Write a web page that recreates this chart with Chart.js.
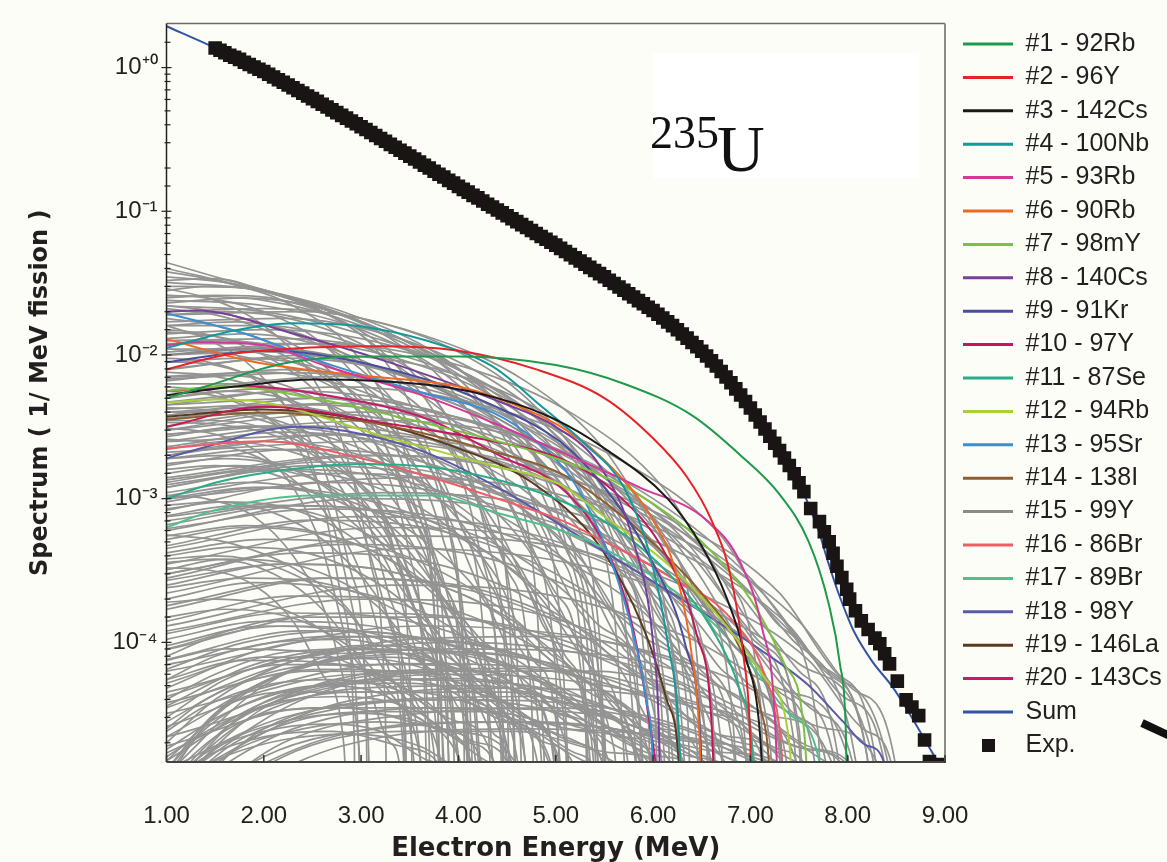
<!DOCTYPE html>
<html>
<head>
<meta charset="utf-8">
<script src="https://cdn.jsdelivr.net/npm/chart.js@4.4.1/dist/chart.umd.min.js"></script>
<style>
html,body{margin:0;padding:0;background:#fdfdf7;}
canvas{display:block;}
</style>
</head>
<body>
<canvas id="c" width="1167" height="862"></canvas>
<script>
// ---------------- data ----------------
const energyTicks = [1, 2, 3, 4, 5, 6, 7, 8, 9];
const decadeLabels = { '0': '10⁺⁰', '-1': '10⁻¹', '-2': '10⁻²', '-3': '10⁻³', '-4': '10⁻⁴' };

const nuclideLabels = ['#1 - 92Rb', '#2 - 96Y', '#3 - 142Cs', '#4 - 100Nb', '#5 - 93Rb', '#6 - 90Rb',
  '#7 - 98mY', '#8 - 140Cs', '#9 - 91Kr', '#10 - 97Y', '#11 - 87Se', '#12 - 94Rb', '#13 - 95Sr',
  '#14 - 138I', '#15 - 99Y', '#16 - 86Br', '#17 - 89Br', '#18 - 98Y', '#19 - 146La', '#20 - 143Cs'];

// each spectrum: [energy, value, energy, value, ...]
const nuclideSpectra = [
  [1,5.01e-3, 1.4,6.03e-3, 2.2,8.71e-3, 3,9.77e-3, 4,9.77e-3, 5,8.51e-3, 5.7,6.31e-3, 6.4,3.80e-3, 6.9,2.00e-3, 7.3,1.07e-3, 7.6,5.01e-4, 7.8,1.91e-4, 7.92,7.08e-5, 7.98,2.51e-5, 8.02,1e-6],
  [1,7.94e-3, 1.6,1.0e-2, 2.4,1.12e-2, 3.2,1.15e-2, 4.0,1.07e-2, 4.8,7.94e-3, 5.5,5.01e-3, 6.0,2.63e-3, 6.35,1.41e-3, 6.6,7.08e-4, 6.8,2.82e-4, 6.93,7.94e-5, 7.0,2.0e-5, 7.04,1e-6],
  [1,5.25e-3, 1.7,6.03e-3, 2.5,6.76e-3, 3.7,6.17e-3, 4.4,5.01e-3, 5.0,3.55e-3, 5.5,2.24e-3, 6.15,1.0e-3, 6.5,4.68e-4, 6.75,2.09e-4, 6.95,7.94e-5, 7.1,2.24e-5, 7.2,1e-6],
  [1,1.12e-2, 1.7,1.48e-2, 2.3,1.66e-2, 3.0,1.58e-2, 3.67,1.26e-2, 4.35,8.32e-3, 4.84,4.47e-3, 5.3,2.40e-3, 5.7,1.20e-3, 5.95,4.47e-4, 6.15,1.0e-4, 6.27,2.0e-5, 6.33,1e-6],
  [1,1.17e-2, 1.3,1.23e-2, 2.0,1.17e-2, 2.65,8.32e-3, 3.67,5.13e-3, 4.35,3.39e-3, 5.0,2.19e-3, 5.86,1.20e-3, 6.55,7.08e-4, 6.9,3.55e-4, 7.12,1.26e-4, 7.25,3.16e-5, 7.33,1e-6],
  [1,1.29e-2, 1.84,9.12e-3, 2.53,7.76e-3, 3.1,7.08e-3, 4.0,6.03e-3, 4.7,4.17e-3, 5.1,3.02e-3, 5.6,1.58e-3, 6.0,7.08e-4, 6.25,2.82e-4, 6.4,7.94e-5, 6.48,2.0e-5, 6.53,1e-6],
  [1,5.62e-3, 1.6,6.03e-3, 2.5,5.01e-3, 3.5,3.55e-3, 4.4,2.51e-3, 5.0,1.91e-3, 5.8,1.12e-3, 6.5,5.01e-4, 7.0,2.0e-4, 7.35,7.08e-5, 7.55,2.51e-5, 7.66,1e-6],
  [1,2.0e-2, 1.3,2.04e-2, 2.3,1.41e-2, 3.33,8.71e-3, 4.4,4.79e-3, 5.0,3.16e-3, 5.45,1.70e-3, 5.8,5.01e-4, 6.0,1.0e-4, 6.06,2.51e-5, 6.1,1e-6],
  [1,8.91e-3, 2.0,1.07e-2, 2.5,1.02e-2, 3.67,6.76e-3, 4.35,4.47e-3, 5.04,2.51e-3, 5.45,1.32e-3, 5.96,3.98e-4, 6.34,9.12e-5, 6.48,2.51e-5, 6.56,1e-6],
  [1,3.16e-3, 2,4.37e-3, 3.3,3.31e-3, 4.35,2.51e-3, 5.04,1.91e-3, 5.6,1.12e-3, 6.14,3.98e-4, 6.45,1.12e-4, 6.6,2.82e-5, 6.68,1e-6],
  [1,1.0e-3, 1.5,1.29e-3, 2.0,1.51e-3, 3.0,1.74e-3, 3.7,1.66e-3, 4.35,1.38e-3, 5.0,1.0e-3, 5.6,6.31e-4, 6.2,2.82e-4, 6.6,1.26e-4, 6.9,4.47e-5, 7.02,1.78e-5, 7.09,1e-6],
  [1,4.68e-3, 1.5,4.90e-3, 2.0,4.68e-3, 3.3,2.63e-3, 4.35,1.70e-3, 5.04,1.26e-3, 5.45,7.94e-4, 6.14,3.55e-4, 6.65,1.58e-4, 7.16,5.50e-5, 7.4,2.0e-5, 7.5,1e-6],
  [1,1.95e-2, 1.8,1.41e-2, 2.65,8.71e-3, 3.67,5.37e-3, 4.35,3.98e-3, 4.8,2.51e-3, 5.2,1.26e-3, 5.55,3.98e-4, 5.8,1.12e-4, 5.93,3.98e-5, 6.0,1.26e-5, 6.03,1e-6],
  [1,3.55e-3, 2,3.98e-3, 3,3.47e-3, 3.67,2.82e-3, 4.35,2.14e-3, 5.04,1.51e-3, 5.55,8.91e-4, 6.14,3.98e-4, 6.55,2.0e-4, 6.9,8.91e-5, 7.1,3.55e-5, 7.2,1.12e-5, 7.25,1e-6],
  [1,1.0e-2, 2,1.12e-2, 3,8.91e-3, 4,5.01e-3, 5,2.0e-3, 6,5.01e-4, 6.8,1.0e-4, 7.3,2.0e-5, 7.45,1e-6],
  [1,2.24e-3, 2,2.51e-3, 3,1.91e-3, 3.9,1.29e-3, 4.4,1.0e-3, 5.09,6.92e-4, 5.45,5.25e-4, 6.14,2.95e-4, 6.82,1.41e-4, 7.16,5.50e-5, 7.33,1.41e-5, 7.4,1e-6],
  [1,6.31e-4, 1.5,8.32e-4, 2.5,1.05e-3, 3.73,1.05e-3, 4.4,7.94e-4, 5.09,5.89e-4, 5.45,4.68e-4, 6.48,1.66e-4, 7.0,7.08e-5, 7.4,3.16e-5, 7.7,1.58e-5, 7.87,1e-6],
  [1,1.91e-3, 1.3,2.19e-3, 2.35,3.16e-3, 3.0,2.82e-3, 3.67,2.09e-3, 4.4,1.20e-3, 5.45,4.47e-4, 6.48,1.66e-4, 7.1,8.91e-5, 7.6,5.01e-5, 7.95,2.82e-5, 8.2,1.91e-5, 8.38,1.41e-5, 8.45,1e-6],
  [1,3.72e-3, 2,4.17e-3, 3,3.55e-3, 4,2.24e-3, 4.76,1.29e-3, 5.45,4.68e-4, 5.9,1.26e-4, 6.14,3.98e-5, 6.27,1.26e-5, 6.32,1e-6],
  [1,5.62e-3, 1.8,6.03e-3, 2.8,5.01e-3, 3.7,3.55e-3, 4.42,2.0e-3, 5.1,1.12e-3, 5.55,4.07e-4, 5.8,1.20e-4, 5.95,3.16e-5, 6.08,6.31e-6, 6.14,1e-6]
];

const sumX = [1.0, 1.5, 2.0, 2.5, 3.0, 3.5, 4.0, 4.5, 5.0, 5.5, 6.0, 6.5, 7.0, 7.25, 7.5, 7.6, 7.7, 7.8, 7.9, 8.0, 8.07, 8.25, 8.46, 8.63, 8.81, 8.95];
const sumY = [1.94, 1.37, 0.938, 0.608, 0.388, 0.242, 0.149, 0.0931, 0.0581, 0.035, 0.0204, 0.0106, 0.00427, 0.00243, 0.00129, 9.0e-4, 6.0e-4, 3.6e-4, 2.25e-4, 1.5e-4, 1.17e-4, 7.4e-5, 4.9e-5, 3.24e-5, 2.0e-5, 1.38e-5];

const expX = [1.50,1.55,1.60,1.65,1.70,1.75,1.80,1.85,1.90,1.95,2.00,2.05,2.10,2.15,2.20,2.25,2.30,2.35,2.40,2.45,
  2.50,2.55,2.60,2.65,2.70,2.75,2.80,2.85,2.90,2.95,3.00,3.05,3.10,3.15,3.20,3.25,3.30,3.35,3.40,3.45,
  3.50,3.55,3.60,3.65,3.70,3.75,3.80,3.85,3.90,3.95,4.00,4.05,4.10,4.15,4.20,4.25,4.30,4.35,4.40,4.45,
  4.50,4.55,4.60,4.65,4.70,4.75,4.80,4.85,4.90,4.95,5.00,5.05,5.10,5.15,5.20,5.25,5.30,5.35,5.40,5.45,
  5.50,5.55,5.60,5.65,5.70,5.75,5.80,5.85,5.90,5.95,6.00,6.05,6.10,6.15,6.20,6.25,6.30,6.35,6.40,6.45,
  6.50,6.55,6.60,6.65,6.70,6.75,6.80,6.85,6.90,6.95,7.00,7.05,7.10,7.15,7.20,7.25,7.30,7.35,7.40,7.45,
  7.50,7.55,7.62,7.71,7.76,7.81,7.85,7.89,7.94,7.99,8.02,8.08,8.14,8.21,8.28,8.33,8.38,8.43,8.51,8.60,
  8.66,8.73,8.79,8.84,8.92];
const expY = [1.37,1.32,1.27,1.22,1.18,1.14,1.09,1.05,1.01,0.975,0.938,0.899,0.861,0.824,0.791,0.757,0.724,0.693,0.664,0.635,
  0.608,0.582,0.556,0.532,0.508,0.486,0.465,0.445,0.425,0.406,0.388,0.371,0.353,0.337,0.321,0.307,0.292,0.279,0.266,0.254,
  0.242,0.231,0.220,0.209,0.200,0.190,0.181,0.173,0.164,0.157,0.149,0.142,0.136,0.129,0.124,0.118,0.112,0.107,0.102,0.0975,
  0.0931,0.0887,0.0847,0.0807,0.0771,0.0735,0.0701,0.0668,0.0638,0.0608,0.0581,0.0552,0.0525,0.0499,0.0474,0.0451,0.0429,0.0407,0.0387,0.0368,
  0.0350,0.0331,0.0314,0.0297,0.0282,0.0267,0.0253,0.0239,0.0227,0.0215,0.0204,0.0192,0.0181,0.0170,0.0160,0.0150,0.0140,0.0131,0.0122,0.0114,
  0.0106,0.00984,0.00910,0.00838,0.00767,0.00702,0.00640,0.00581,0.00526,0.00474,0.00427,0.00382,0.00342,0.00305,0.00272,0.00243,0.00216,0.00192,0.00170,0.00149,
  0.00129,0.00112,8.53e-4,6.92e-4,5.89e-4,5.01e-4,4.17e-4,3.39e-4,2.82e-4,2.34e-4,2.00e-4,1.66e-4,1.41e-4,1.23e-4,1.07e-4,9.77e-5,8.32e-5,7.08e-5,5.37e-5,3.98e-5,
  3.55e-5,3.09e-5,2.09e-5,1.48e-5,1.41e-5];

// all other (unlabelled) nuclide spectra, grey: [energy, value, ...]
const otherSpectra = [
  [1,4.4e-2, 1.5,3.5e-2, 2.2,2.6e-2, 3,1.7e-2, 3.8,8.9e-3, 4.4,3.2e-3, 4.8,7.9e-4, 5.05,1.3e-4, 5.2,1e-6],
  [1,4.0e-2, 1.8,3.0e-2, 2.6,2.1e-2, 3.4,1.3e-2, 4.1,7.1e-3, 4.7,2.5e-3, 5.1,5.0e-4, 5.35,6.3e-5, 5.5,1e-6],
  [1,3.5e-2, 1.6,3.2e-2, 2.4,2.4e-2, 3.3,1.4e-2, 4.0,7.9e-3, 4.7,3.5e-3, 5.3,1.0e-3, 5.7,1.6e-4, 5.95,1e-6],
  [1,3.3e-2, 1.5,3.4e-2, 2.0,2.8e-2, 2.8,1.7e-2, 3.4,7.9e-3, 3.9,2.5e-3, 4.2,5.0e-4, 4.4,6.3e-5, 4.5,1e-6],
  [1,3.0e-2, 1.7,2.95e-2, 2.5,2.2e-2, 3.3,1.3e-2, 4.0,5.0e-3, 4.5,1.3e-3, 4.8,2.0e-4, 4.95,1e-6],
  [1,2.8e-2, 1.4,3.0e-2, 2.0,2.8e-2, 2.6,2.0e-2, 3.2,1.0e-2, 3.6,3.2e-3, 3.9,6.3e-4, 4.05,7.9e-5, 4.15,1e-6],
  [1,2.6e-2, 2.0,2.4e-2, 3.0,1.6e-2, 3.8,8.9e-3, 4.6,3.5e-3, 5.2,1.0e-3, 5.6,1.6e-4, 5.8,1e-6],
  [1,2.5e-2, 1.5,2.6e-2, 2.2,2.4e-2, 2.9,1.6e-2, 3.5,7.9e-3, 4.0,2.5e-3, 4.3,5.0e-4, 4.5,4.0e-5, 4.55,1e-6],
  [1,2.3e-2, 1.8,2.5e-2, 2.6,2.1e-2, 3.4,1.3e-2, 4.2,6.3e-3, 4.8,2.0e-3, 5.2,4.0e-4, 5.45,5.0e-5, 5.55,1e-6],
  [1,2.2e-2, 1.5,2.0e-2, 2.3,1.4e-2, 3.0,7.9e-3, 3.5,3.2e-3, 3.85,7.9e-4, 4.05,1.0e-4, 4.15,1e-6],
  [1,2.0e-2, 2.0,2.1e-2, 3.0,1.8e-2, 4.0,1.05e-2, 4.7,5.0e-3, 5.3,1.6e-3, 5.7,3.2e-4, 5.95,3.2e-5, 6.0,1e-6],
  [1,1.9e-2, 1.6,2.0e-2, 2.4,1.7e-2, 3.2,1.0e-2, 3.8,4.5e-3, 4.2,1.4e-3, 4.5,2.5e-4, 4.65,1e-6],
  [1,1.8e-2, 1.5,1.6e-2, 2.2,1.1e-2, 2.8,5.6e-3, 3.2,2.0e-3, 3.5,4.0e-4, 3.65,5.0e-5, 3.7,1e-6],
  [1,1.7e-2, 2.2,1.8e-2, 3.4,1.3e-2, 4.4,6.3e-3, 5.2,2.2e-3, 5.8,5.0e-4, 6.2,7.9e-5, 6.35,1e-6],
  [1,1.6e-2, 1.7,1.7e-2, 2.5,1.3e-2, 3.3,6.3e-3, 3.9,2.5e-3, 4.3,6.3e-4, 4.6,7.9e-5, 4.7,1e-6],
  [1,1.5e-2, 1.4,1.4e-2, 2.0,1.0e-2, 2.6,5.0e-3, 3.0,2.0e-3, 3.3,5.0e-4, 3.5,6.3e-5, 3.55,1e-6],
  [1,1.4e-2, 2.0,1.5e-2, 3.0,1.3e-2, 4.0,7.9e-3, 4.9,3.2e-3, 5.5,1.0e-3, 6.0,2.0e-4, 6.3,2.5e-5, 6.4,1e-6],
  [1,1.26e-2, 1.6,1.26e-2, 2.4,1.0e-2, 3.1,5.6e-3, 3.6,2.5e-3, 4.0,7.1e-4, 4.25,1.3e-4, 4.4,1e-6],
  [1,1.2e-2, 2.5,1.2e-2, 3.5,8.9e-3, 4.5,4.5e-3, 5.2,1.8e-3, 5.7,5.0e-4, 6.05,7.9e-5, 6.2,1e-6],
  [1,1.1e-2, 1.5,1.1e-2, 2.3,8.9e-3, 3.0,5.0e-3, 3.5,2.0e-3, 3.85,5.0e-4, 4.1,6.3e-5, 4.2,1e-6],
  [1,1.0e-2, 2,1.1e-2, 3,8.9e-3, 4,5.0e-3, 4.8,2.0e-3, 5.4,5.6e-4, 5.8,1.0e-4, 6.0,1e-6],
  [1,8.9e-3, 1.8,9.5e-3, 2.7,7.6e-3, 3.5,4.0e-3, 4.1,1.4e-3, 4.5,3.2e-4, 4.75,4.0e-5, 4.8,1e-6],
  [1,7.9e-3, 2.5,1.0e-2, 3.8,7.9e-3, 5.0,3.5e-3, 5.8,1.1e-3, 6.4,2.5e-4, 6.8,4.0e-5, 6.95,1e-6],
  [1,7.6e-3, 1.5,7.1e-3, 2.2,5.0e-3, 2.8,2.5e-3, 3.2,8.9e-4, 3.5,2.0e-4, 3.7,2.0e-5, 3.72,1e-6],
  [1,6.6e-3, 2.2,7.9e-3, 3.3,6.3e-3, 4.3,3.5e-3, 5.0,1.4e-3, 5.6,3.5e-4, 6.0,5.0e-5, 6.1,1e-6],
  [1,6.3e-3, 1.7,6.3e-3, 2.5,5.0e-3, 3.2,2.8e-3, 3.8,1.0e-3, 4.2,2.5e-4, 4.45,3.2e-5, 4.5,1e-6],
  [1,5.6e-3, 2.8,7.1e-3, 4.0,5.0e-3, 5.0,2.5e-3, 5.8,8.9e-4, 6.5,2.0e-4, 6.9,4.0e-5, 7.1,1e-6],
  [1,5.0e-3, 1.6,5.6e-3, 2.4,4.5e-3, 3.0,2.5e-3, 3.5,1.0e-3, 3.9,2.0e-4, 4.1,2.5e-5, 4.15,1e-6],
  [1,4.7e-3, 2.3,5.6e-3, 3.5,4.5e-3, 4.5,2.2e-3, 5.3,7.9e-4, 5.8,2.0e-4, 6.15,3.2e-5, 6.2,1e-6],
  [1,4.2e-3, 2.0,4.5e-3, 3.0,3.5e-3, 3.8,1.8e-3, 4.4,6.3e-4, 4.85,1.4e-4, 5.1,2.0e-5, 5.15,1e-6],
  [1,3.8e-3, 2.6,5.0e-3, 3.8,4.0e-3, 5.0,1.8e-3, 5.9,5.6e-4, 6.6,1.3e-4, 7.0,2.5e-5, 7.15,1e-6],
  [1,3.5e-3, 1.5,3.5e-3, 2.2,2.8e-3, 2.8,1.6e-3, 3.3,6.3e-4, 3.7,1.3e-4, 3.9,1.6e-5, 3.92,1e-6],
  [1,3.2e-3, 2.2,4.0e-3, 3.3,3.2e-3, 4.2,1.8e-3, 5.0,7.1e-4, 5.5,2.0e-4, 5.85,3.2e-5, 5.95,1e-6],
  [1,3.0e-3, 3.0,4.0e-3, 4.3,3.2e-3, 5.5,1.4e-3, 6.4,4.5e-4, 7.0,1.1e-4, 7.45,2.0e-5, 7.55,1e-6],
  [1,2.7e-3, 1.8,3.2e-3, 2.8,2.5e-3, 3.6,1.3e-3, 4.2,4.5e-4, 4.6,1.0e-4, 4.85,1.6e-5, 4.9,1e-6],
  [1,2.5e-3, 2.5,3.2e-3, 3.8,2.5e-3, 4.8,1.3e-3, 5.6,4.5e-4, 6.1,1.1e-4, 6.45,2.0e-5, 6.5,1e-6],
  [1,2.2e-3, 1.6,2.5e-3, 2.4,2.0e-3, 3.1,1.1e-3, 3.6,4.0e-4, 4.0,8.9e-5, 4.2,1.6e-5, 4.25,1e-6],
  [1,2.0e-3, 2.8,2.8e-3, 4.0,2.2e-3, 5.2,1.1e-3, 6.1,4.0e-4, 6.8,1.0e-4, 7.2,2.0e-5, 7.3,1e-6],
  [1,1.9e-3, 2.0,2.2e-3, 3.0,1.8e-3, 3.9,8.9e-4, 4.6,3.2e-4, 5.1,7.1e-5, 5.35,1.6e-5, 5.4,1e-6],
  [1,1.7e-3, 2.3,2.2e-3, 3.5,1.9e-3, 4.5,1.0e-3, 5.3,3.5e-4, 5.9,7.9e-5, 6.2,1.6e-5, 6.25,1e-6],
  [1,1.6e-3, 1.5,1.7e-3, 2.2,1.4e-3, 2.8,7.9e-4, 3.3,3.2e-4, 3.6,7.9e-5, 3.8,1.3e-5, 3.82,1e-6],
  [1,1.4e-3, 3.0,2.0e-3, 4.5,1.6e-3, 5.8,7.1e-4, 6.8,2.5e-4, 7.5,6.3e-5, 7.9,1.6e-5, 8.0,1e-6],
  [1,1.3e-3, 2.0,1.6e-3, 3.0,1.3e-3, 3.8,7.1e-4, 4.4,2.8e-4, 4.8,7.1e-5, 5.05,1.3e-5, 5.07,1e-6],
  [1,1.2e-3, 2.5,1.7e-3, 3.8,1.4e-3, 5.0,7.1e-4, 5.9,2.5e-4, 6.5,6.3e-5, 6.85,1.3e-5, 6.9,1e-6],
  [1,1.1e-3, 1.8,1.3e-3, 2.7,1.0e-3, 3.4,5.0e-4, 3.9,1.8e-4, 4.3,4.0e-5, 4.45,1e-6],
  [1,1.05e-3, 2.8,1.5e-3, 4.2,1.2e-3, 5.5,5.6e-4, 6.6,1.8e-4, 7.3,4.5e-5, 7.7,1.0e-5, 7.75,1e-6],
  [1,5.6e-3, 1.5,5.2e-3, 2.1,3.5e-3, 2.6,1.8e-3, 3.0,6.3e-4, 3.3,1.3e-4, 3.45,1.6e-5, 3.47,1e-6],
  [1,2.8e-3, 3.2,3.5e-3, 4.8,2.5e-3, 6.0,1.0e-3, 7.0,2.8e-4, 7.7,7.1e-5, 8.2,1.6e-5, 8.3,1e-6],
  [1,4.5e-3, 2.5,5.0e-3, 3.8,3.5e-3, 4.8,1.6e-3, 5.6,5.0e-4, 6.2,1.1e-4, 6.55,2.0e-5, 6.6,1e-6],
  [1,7.1e-3, 2.0,7.6e-3, 3.0,5.6e-3, 3.9,2.8e-3, 4.5,1.0e-3, 5.0,2.2e-4, 5.3,3.2e-5, 5.35,1e-6],
  [1,9.5e-4, 2.0,1.2e-3, 3.0,1.0e-3, 4.0,5.6e-4, 4.8,2.2e-4, 5.4,6.3e-5, 5.75,1.3e-5, 5.8,1e-6],
  [1,8.3e-4, 2.6,1.3e-3, 4.0,1.05e-3, 5.3,5.0e-4, 6.3,1.8e-4, 7.0,5.0e-5, 7.4,1.1e-5, 7.45,1e-6],
  [1,7.6e-4, 1.7,8.9e-4, 2.6,7.6e-4, 3.4,4.0e-4, 4.0,1.4e-4, 4.4,3.5e-5, 4.6,1e-6],
  [1,6.6e-4, 2.3,8.9e-4, 3.5,7.6e-4, 4.6,4.0e-4, 5.4,1.4e-4, 6.0,3.5e-5, 6.3,1e-6],
  [1,6.0e-4, 3.0,1.0e-3, 4.5,8.3e-4, 5.8,4.0e-4, 6.8,1.4e-4, 7.5,4.0e-5, 7.9,1.1e-5, 7.95,1e-6],
  [1,5.2e-4, 1.8,6.3e-4, 2.8,5.2e-4, 3.6,2.8e-4, 4.2,1.1e-4, 4.65,2.5e-5, 4.8,1e-6],
  [1,4.7e-4, 2.5,7.1e-4, 3.8,6.0e-4, 5.0,3.0e-4, 5.9,1.1e-4, 6.5,3.2e-5, 6.8,1e-6],
  [1,4.2e-4, 2.0,5.2e-4, 3.2,4.5e-4, 4.2,2.2e-4, 4.9,8.9e-5, 5.4,2.2e-5, 5.6,1e-6],
  [1,3.5e-4, 3.2,6.3e-4, 4.8,5.2e-4, 6.0,2.5e-4, 7.0,1.0e-4, 7.7,3.2e-5, 8.1,1.0e-5, 8.15,1e-6],
  [1,3.2e-4, 1.6,3.8e-4, 2.5,3.2e-4, 3.2,1.7e-4, 3.7,6.3e-5, 4.0,1.6e-5, 4.05,1e-6],
  [1,2.8e-4, 2.8,4.8e-4, 4.2,4.0e-4, 5.4,2.0e-4, 6.3,7.9e-5, 6.9,2.5e-5, 7.15,1e-6],
  [1,2.5e-4, 2.2,3.5e-4, 3.4,3.0e-4, 4.4,1.6e-4, 5.1,6.3e-5, 5.6,1.8e-5, 5.7,1e-6],
  [1,2.2e-4, 3.5,4.5e-4, 5.2,3.5e-4, 6.5,1.8e-4, 7.5,7.1e-5, 8.2,2.2e-5, 8.55,1e-6],
  [1,2.0e-4, 1.9,2.6e-4, 3.0,2.2e-4, 3.9,1.3e-4, 4.6,5.0e-5, 5.0,1.4e-5, 5.05,1e-6],
  [1,1.7e-4, 2.7,2.8e-4, 4.0,2.5e-4, 5.2,1.3e-4, 6.1,5.6e-5, 6.7,1.6e-5, 6.8,1e-6],
  [1,1.4e-4, 2.3,2.1e-4, 3.6,1.9e-4, 4.7,1.0e-4, 5.5,4.0e-5, 6.0,1.3e-5, 6.05,1e-6],
  [1,1.3e-4, 3.3,2.5e-4, 5.0,2.1e-4, 6.4,1.05e-4, 7.4,4.5e-5, 8.0,1.6e-5, 8.1,1e-6],
  [1,1.05e-4, 2.0,1.4e-4, 3.1,1.3e-4, 4.0,7.1e-5, 4.7,2.8e-5, 5.1,1.0e-5, 5.15,1e-6],
  [1,8.9e-5, 2.8,1.6e-4, 4.3,1.4e-4, 5.6,7.6e-5, 6.6,3.2e-5, 7.2,1.1e-5, 7.25,1e-6],
  [1,7.6e-5, 2.4,1.2e-4, 3.7,1.05e-4, 4.8,5.6e-5, 5.6,2.5e-5, 6.1,1.0e-5, 6.15,1e-6],
  [1,6.3e-5, 3.6,1.3e-4, 5.4,1.05e-4, 6.8,5.6e-5, 7.8,2.5e-5, 8.4,1.0e-5, 8.45,1e-6],
  [1,5.2e-5, 2.0,7.9e-5, 3.2,7.6e-5, 4.2,4.5e-5, 4.9,2.0e-5, 5.3,7.9e-6, 5.35,1e-6],
  [1,4.5e-5, 3.0,8.9e-5, 4.6,7.9e-5, 5.9,4.5e-5, 6.9,2.0e-5, 7.4,7.9e-6, 7.45,1e-6],
  [1,3.8e-5, 2.5,6.3e-5, 3.9,6.0e-5, 5.0,3.5e-5, 5.8,1.7e-5, 6.2,7.9e-6, 6.25,1e-6],
  [1,3.2e-5, 3.4,7.1e-5, 5.2,6.3e-5, 6.6,3.5e-5, 7.6,1.8e-5, 8.2,7.9e-6, 8.25,1e-6],
  [1,2.6e-5, 2.2,4.5e-5, 3.5,4.5e-5, 4.6,2.8e-5, 5.4,1.4e-5, 5.8,6.3e-6, 5.85,1e-6],
  [1,2.2e-5, 2.9,4.5e-5, 4.5,4.5e-5, 5.8,2.6e-5, 6.8,1.3e-5, 7.3,6.3e-6, 7.35,1e-6],
  [1,1.9e-5, 2.5,3.5e-5, 3.9,3.5e-5, 5.1,2.2e-5, 6.0,1.1e-5, 6.4,5.0e-6, 6.45,1e-6],
  [1,3.8e-4, 1.5,4.0e-4, 2.2,3.2e-4, 2.8,1.8e-4, 3.3,7.1e-5, 3.6,1.8e-5, 3.65,1e-6],
  [1,5.6e-4, 1.6,5.0e-4, 2.3,3.3e-4, 2.9,1.6e-4, 3.3,5.6e-5, 3.55,1.3e-5, 3.58,1e-6],
  [1,1.1e-5, 1.5,3.2e-5, 2.3,6.3e-5, 3.2,7.9e-5, 4.2,6.3e-5, 5.0,3.2e-5, 5.5,1.3e-5, 5.6,1e-6],
  [1,1.0e-5, 1.7,2.8e-5, 2.8,5.0e-5, 4.0,5.6e-5, 5.2,4.0e-5, 6.1,2.0e-5, 6.7,7.9e-6, 6.75,1e-6],
  [1,7.9e-6, 1.5,1.8e-5, 2.2,2.8e-5, 3.0,3.2e-5, 3.8,2.5e-5, 4.4,1.4e-5, 4.7,6.3e-6, 4.72,1e-6],
  [1,6.3e-6, 2.0,2.5e-5, 3.4,4.0e-5, 4.8,4.2e-5, 6.0,2.8e-5, 7.0,1.4e-5, 7.5,6.3e-6, 7.55,1e-6],
  [1,1.0e-5, 1.4,1.6e-5, 2.0,2.2e-5, 2.7,2.4e-5, 3.4,1.9e-5, 3.9,1.1e-5, 4.1,1e-6],
  [1,5.0e-6, 2.2,2.0e-5, 3.6,3.2e-5, 5.0,3.5e-5, 6.3,2.5e-5, 7.2,1.4e-5, 7.8,6.3e-6, 7.85,1e-6],
  [1,1.3e-5, 1.6,3.5e-5, 2.5,7.1e-5, 3.5,8.9e-5, 4.5,7.1e-5, 5.3,3.5e-5, 5.9,1.3e-5, 6.0,1e-6],
  [1,1.0e-5, 1.8,2.8e-5, 3.0,4.8e-5, 4.2,5.0e-5, 5.2,3.5e-5, 6.0,1.8e-5, 6.5,7.9e-6, 6.55,1e-6],
  [1,7.9e-6, 2.3,2.5e-5, 3.8,3.5e-5, 5.3,3.2e-5, 6.5,2.0e-5, 7.4,1.0e-5, 7.45,1e-6],
  [1,1.1e-5, 1.5,2.2e-5, 2.1,3.3e-5, 2.8,3.5e-5, 3.5,2.8e-5, 4.0,1.6e-5, 4.3,1e-6],
  [1,6.3e-6, 2.6,2.1e-5, 4.2,2.8e-5, 5.6,2.5e-5, 6.8,1.7e-5, 7.6,8.9e-6, 7.65,1e-6],
  [1,4.0e-6, 2.2,1.6e-5, 3.4,2.4e-5, 4.6,2.4e-5, 5.6,1.7e-5, 6.3,8.9e-6, 6.35,1e-6],
  [1,1.3e-5, 1.5,3.2e-5, 2.2,5.0e-5, 3.0,6.0e-5, 3.8,5.0e-5, 4.5,2.8e-5, 5.0,1.0e-5, 5.05,1e-6],
  [1,8.9e-6, 2.0,3.5e-5, 3.3,6.3e-5, 4.6,6.6e-5, 5.8,4.5e-5, 6.8,2.2e-5, 7.5,8.9e-6, 7.55,1e-6],
  [1,7.1e-6, 1.9,2.2e-5, 3.1,3.3e-5, 4.3,3.3e-5, 5.3,2.4e-5, 6.0,1.3e-5, 6.1,1e-6],
  [1,5.0e-6, 2.8,1.9e-5, 4.7,2.5e-5, 6.4,2.1e-5, 7.6,1.3e-5, 8.3,7.9e-6, 8.35,1e-6],
  [1,1.2e-5, 1.4,2.5e-5, 2.0,4.2e-5, 2.6,5.0e-5, 3.2,4.4e-5, 3.8,2.5e-5, 4.2,1.0e-5, 4.25,1e-6],
  [1,8.9e-6, 1.8,3.2e-5, 2.9,5.6e-5, 4.1,6.3e-5, 5.1,4.7e-5, 5.9,2.5e-5, 6.4,1.0e-5, 6.45,1e-6],
  [1,6.3e-6, 1.6,1.6e-5, 2.4,2.5e-5, 3.2,2.8e-5, 4.0,2.4e-5, 4.6,1.4e-5, 4.9,1e-6],
  [1,1.0e-5, 2.4,4.0e-5, 3.9,6.3e-5, 5.4,6.3e-5, 6.6,4.0e-5, 7.6,1.8e-5, 8.1,8.9e-6, 8.15,1e-6],
  [1,4.0e-3, 2.5,4.5e-3, 4.0,3.2e-3, 5.5,1.3e-3, 6.6,4.0e-4, 7.4,1.1e-4, 8.0,2.8e-5, 8.35,1e-6],
  [1,1.0e-2, 2.0,1.05e-2, 3.2,7.9e-3, 4.4,4.0e-3, 5.5,1.4e-3, 6.4,4.0e-4, 7.1,1.0e-4, 7.5,2.5e-5, 7.6,1e-6],
  [1,1.26e-2, 2.2,1.3e-2, 3.4,1.0e-2, 4.6,4.5e-3, 5.6,1.4e-3, 6.4,3.5e-4, 7.0,7.9e-5, 7.3,1.6e-5, 7.35,1e-6],
  [1,2.5e-3, 3.0,2.8e-3, 4.6,1.9e-3, 6.0,7.1e-4, 7.0,2.2e-4, 7.8,6.3e-5, 8.4,1.6e-5, 8.6,1e-6],
  [1,1.0e-3, 3.5,1.4e-3, 5.2,1.0e-3, 6.6,4.0e-4, 7.5,1.4e-4, 8.1,4.5e-5, 8.5,1.3e-5, 8.55,1e-6],
  [1,2.2e-2, 2.0,2.0e-2, 3.0,1.4e-2, 4.0,7.9e-3, 4.9,3.2e-3, 5.6,1.0e-3, 6.2,2.2e-4, 6.6,4.0e-5, 6.7,1e-6],
  [1,3.8e-2, 1.6,3.2e-2, 2.3,2.2e-2, 2.9,1.1e-2, 3.3,4.0e-3, 3.6,9.0e-4, 3.8,1.2e-4, 3.88,1e-6],
  [1,2.9e-2, 1.5,2.4e-2, 2.0,1.6e-2, 2.5,7.0e-3, 2.85,2.0e-3, 3.1,3.5e-4, 3.25,3.0e-5, 3.28,1e-6],
  [1,2.4e-2, 2.0,2.2e-2, 3.0,1.5e-2, 3.9,7.0e-3, 4.6,2.2e-3, 5.1,4.5e-4, 5.4,5.0e-5, 5.48,1e-6],
  [1,1.6e-2, 1.4,1.3e-2, 1.9,8.0e-3, 2.3,3.5e-3, 2.6,1.0e-3, 2.8,2.0e-4, 2.93,2.0e-5, 2.95,1e-6],
  [1,1.3e-2, 1.8,1.4e-2, 2.7,1.1e-2, 3.5,6.0e-3, 4.2,2.2e-3, 4.7,5.0e-4, 5.0,6.0e-5, 5.08,1e-6],
  [1,9.0e-3, 1.5,8.5e-3, 2.1,6.0e-3, 2.6,3.0e-3, 3.0,1.0e-3, 3.3,2.0e-4, 3.46,2.0e-5, 3.48,1e-6],
  [1,8.0e-3, 2.2,9.5e-3, 3.4,7.5e-3, 4.5,3.8e-3, 5.3,1.3e-3, 5.9,3.0e-4, 6.25,4.0e-5, 6.32,1e-6],
  [1,6.0e-3, 1.5,5.5e-3, 2.0,3.8e-3, 2.4,2.0e-3, 2.7,7.0e-4, 2.95,1.3e-4, 3.08,1.5e-5, 3.1,1e-6],
  [1,5.0e-3, 2.0,5.8e-3, 3.0,4.5e-3, 4.0,2.2e-3, 4.7,8.0e-4, 5.2,1.8e-4, 5.5,2.5e-5, 5.55,1e-6],
  [1,4.0e-3, 1.6,4.0e-3, 2.4,3.0e-3, 3.1,1.5e-3, 3.6,5.0e-4, 4.0,1.0e-4, 4.22,1.5e-5, 4.25,1e-6],
  [1,3.0e-3, 2.4,4.0e-3, 3.6,3.2e-3, 4.8,1.6e-3, 5.7,5.5e-4, 6.3,1.3e-4, 6.7,2.0e-5, 6.78,1e-6],
  [1,2.6e-3, 1.5,2.4e-3, 2.1,1.7e-3, 2.6,8.5e-4, 3.0,3.0e-4, 3.3,6.0e-5, 3.45,1e-5, 3.47,1e-6],
  [1,2.0e-3, 2.0,2.5e-3, 3.0,2.0e-3, 3.9,1.0e-3, 4.6,3.6e-4, 5.1,8.0e-5, 5.4,1.2e-5, 5.44,1e-6],
  [1,1.5e-3, 1.7,1.7e-3, 2.6,1.3e-3, 3.3,6.5e-4, 3.9,2.2e-4, 4.3,5.0e-5, 4.52,1e-5, 4.55,1e-6],
  [1,1.2e-3, 2.6,1.8e-3, 4.0,1.4e-3, 5.2,7.0e-4, 6.1,2.5e-4, 6.7,6.5e-5, 7.05,1.3e-5, 7.1,1e-6],
  [1,9.0e-4, 1.5,9.5e-4, 2.2,7.5e-4, 2.8,4.0e-4, 3.3,1.4e-4, 3.6,3.5e-5, 3.78,1e-5, 3.8,1e-6],
  [1,7.0e-4, 2.2,9.0e-4, 3.4,7.5e-4, 4.4,3.8e-4, 5.1,1.4e-4, 5.6,3.5e-5, 5.85,1e-5, 5.88,1e-6],
  [1,5.5e-4, 1.8,6.5e-4, 2.7,5.5e-4, 3.5,3.0e-4, 4.1,1.1e-4, 4.5,3.0e-5, 4.72,1e-5, 4.75,1e-6],
  [1,4.5e-4, 3.0,7.5e-4, 4.6,6.0e-4, 5.9,2.8e-4, 6.9,1.0e-4, 7.5,3.0e-5, 7.82,1e-5, 7.86,1e-6],
  [1,3.6e-4, 1.5,3.8e-4, 2.1,3.0e-4, 2.6,1.7e-4, 3.0,7.0e-5, 3.3,2.0e-5, 3.42,1e-5, 3.44,1e-6],
  [1,3.0e-4, 2.4,4.2e-4, 3.7,3.6e-4, 4.8,1.9e-4, 5.6,7.5e-5, 6.1,2.2e-5, 6.35,1e-5, 6.38,1e-6],
  [1,2.4e-4, 1.8,2.8e-4, 2.8,2.4e-4, 3.6,1.3e-4, 4.2,5.0e-5, 4.6,1.6e-5, 4.72,1e-6],
  [1,1.8e-4, 2.6,2.8e-4, 4.0,2.4e-4, 5.2,1.2e-4, 6.0,5.0e-5, 6.6,1.5e-5, 6.75,1e-6],
  [1,1.5e-4, 1.6,1.7e-4, 2.4,1.4e-4, 3.0,8.0e-5, 3.5,3.2e-5, 3.85,1.2e-5, 3.92,1e-6],
  [1,1.2e-4, 3.0,2.0e-4, 4.6,1.7e-4, 5.9,8.5e-5, 6.9,3.5e-5, 7.5,1.3e-5, 7.62,1e-6],
  [1,9.5e-5, 2.0,1.3e-4, 3.1,1.1e-4, 4.0,6.0e-5, 4.6,2.6e-5, 5.0,1.1e-5, 5.05,1e-6],
  [1,7.0e-5, 2.7,1.1e-4, 4.2,9.5e-5, 5.4,5.0e-5, 6.3,2.2e-5, 6.85,1e-5, 6.9,1e-6],
  [1,5.5e-5, 1.8,7.5e-5, 2.8,7.0e-5, 3.6,4.2e-5, 4.2,2.0e-5, 4.6,1e-5, 4.65,1e-6],
  [1,3.2e-2, 2.0,2.8e-2, 3.0,1.8e-2, 3.9,9.0e-3, 4.6,3.2e-3, 5.1,8.0e-4, 5.45,1.1e-4, 5.55,1e-6],
  [1,2.6e-2, 1.4,2.5e-2, 2.0,2.0e-2, 2.6,1.2e-2, 3.1,5.0e-3, 3.5,1.3e-3, 3.75,1.8e-4, 3.85,1e-6],
  [1,1.9e-2, 2.4,2.0e-2, 3.6,1.4e-2, 4.7,6.5e-3, 5.5,2.2e-3, 6.1,5.0e-4, 6.45,8.0e-5, 6.55,1e-6],
  [1,1.45e-2, 1.5,1.35e-2, 2.2,1.0e-2, 2.8,5.5e-3, 3.3,2.0e-3, 3.65,5.0e-4, 3.88,6.0e-5, 3.92,1e-6],
  [1,1.05e-2, 2.6,1.2e-2, 4.0,8.5e-3, 5.2,3.8e-3, 6.1,1.2e-3, 6.7,2.8e-4, 7.1,4.0e-5, 7.18,1e-6],
  [1,7.0e-3, 1.6,7.2e-3, 2.4,5.5e-3, 3.0,3.0e-3, 3.5,1.1e-3, 3.85,2.5e-4, 4.05,3.5e-5, 4.08,1e-6],
  [1,4.5e-3, 2.8,6.0e-3, 4.4,4.2e-3, 5.7,1.8e-3, 6.7,5.5e-4, 7.3,1.3e-4, 7.7,2.2e-5, 7.75,1e-6],
  [1,3.4e-3, 1.5,3.3e-3, 2.2,2.6e-3, 2.8,1.4e-3, 3.3,5.0e-4, 3.65,1.1e-4, 3.85,1.5e-5, 3.88,1e-6],
  [1,2.3e-3, 2.2,2.9e-3, 3.4,2.3e-3, 4.4,1.1e-3, 5.2,3.8e-4, 5.7,9.0e-5, 6.0,1.6e-5, 6.04,1e-6],
  [1,1.75e-3, 1.6,1.9e-3, 2.4,1.5e-3, 3.0,8.0e-4, 3.5,2.8e-4, 3.9,6.0e-5, 4.1,1.2e-5, 4.13,1e-6],
  [1,1.35e-3, 3.2,2.0e-3, 4.9,1.5e-3, 6.3,6.5e-4, 7.3,2.2e-4, 7.9,6.0e-5, 8.3,1.3e-5, 8.36,1e-6],
  [1,1.0e-3, 1.9,1.2e-3, 2.9,9.5e-4, 3.7,4.8e-4, 4.3,1.8e-4, 4.75,4.2e-5, 5.0,1.1e-5, 5.03,1e-6],
  [1,2.0e-5, 1.5,4.0e-5, 2.2,7.0e-5, 3.0,9.5e-5, 3.9,8.5e-5, 4.6,5.0e-5, 5.1,2.0e-5, 5.3,1e-6],
  [1,1.5e-5, 1.8,4.5e-5, 3.0,8.0e-5, 4.2,8.5e-5, 5.3,5.5e-5, 6.1,2.5e-5, 6.6,1e-5, 6.65,1e-6],
  [1,2.5e-5, 1.4,4.0e-5, 2.0,6.0e-5, 2.6,7.0e-5, 3.2,6.0e-5, 3.7,3.5e-5, 4.0,1.5e-5, 4.1,1e-6],
  [1,1.2e-5, 2.0,5.0e-5, 3.5,1.05e-4, 5.0,1.1e-4, 6.3,7.0e-5, 7.3,3.0e-5, 7.9,1.1e-5, 7.95,1e-6],
  [1,3.0e-5, 1.6,5.5e-5, 2.4,8.0e-5, 3.3,8.5e-5, 4.1,6.0e-5, 4.7,3.0e-5, 5.05,1.2e-5, 5.1,1e-6],
  [1,8.0e-6, 1.7,2.0e-5, 2.8,3.5e-5, 4.0,4.0e-5, 5.2,3.0e-5, 6.1,1.6e-5, 6.6,8.0e-6, 6.65,1e-6],
  [1,1.6e-5, 1.5,2.6e-5, 2.1,3.8e-5, 2.8,4.2e-5, 3.5,3.5e-5, 4.1,2.0e-5, 4.45,1e-5, 4.5,1e-6],
  [1,5.0e-6, 2.0,1.6e-5, 3.4,2.6e-5, 4.8,2.8e-5, 6.0,2.2e-5, 7.0,1.3e-5, 7.6,7.0e-6, 7.65,1e-6],
  [1,4.0e-5, 1.5,6.0e-5, 2.2,8.5e-5, 3.0,9.0e-5, 3.8,7.0e-5, 4.4,4.0e-5, 4.8,1.6e-5, 4.9,1e-6],
  [1,2.2e-5, 2.3,6.5e-5, 4.0,9.0e-5, 5.6,8.0e-5, 6.8,4.5e-5, 7.7,1.8e-5, 8.2,8.0e-6, 8.25,1e-6],
  [1,1.0e-5, 1.4,1.7e-5, 2.0,2.4e-5, 2.6,2.7e-5, 3.2,2.4e-5, 3.7,1.5e-5, 4.0,8.0e-6, 4.05,1e-6],
  [1,6.5e-5, 1.8,1.0e-4, 2.8,1.2e-4, 3.8,1.0e-4, 4.6,6.0e-5, 5.2,2.6e-5, 5.6,1.1e-5, 5.65,1e-6],
  [1,3.5e-5, 2.5,8.0e-5, 4.0,1.0e-4, 5.4,8.0e-5, 6.5,4.5e-5, 7.3,1.8e-5, 7.7,8.0e-6, 7.75,1e-6],
  [1,1.8e-5, 1.6,3.2e-5, 2.4,4.8e-5, 3.4,5.2e-5, 4.4,4.0e-5, 5.2,2.0e-5, 5.6,9.0e-6, 5.65,1e-6],
  [1,8.0e-5, 1.5,1.1e-4, 2.2,1.3e-4, 3.0,1.2e-4, 3.7,8.0e-5, 4.2,3.8e-5, 4.55,1.3e-5, 4.6,1e-6],
  [1,1.0e-5, 2.6,3.5e-5, 4.4,4.8e-5, 6.0,4.2e-5, 7.2,2.6e-5, 8.0,1.3e-5, 8.5,7.0e-6, 8.55,1e-6],
  [1,4.8e-5, 2.0,9.0e-5, 3.2,1.1e-4, 4.4,9.0e-5, 5.4,5.0e-5, 6.0,2.2e-5, 6.4,9.0e-6, 6.45,1e-6],
  [1,2.8e-5, 1.7,5.0e-5, 2.6,6.5e-5, 3.6,6.0e-5, 4.5,3.8e-5, 5.2,1.7e-5, 5.5,8.0e-6, 5.55,1e-6],
  [1,1.3e-5, 2.2,3.0e-5, 3.8,4.0e-5, 5.4,3.6e-5, 6.6,2.2e-5, 7.5,1.1e-5, 7.9,6.0e-6, 7.95,1e-6],
  [1,9.0e-5, 2.4,1.5e-4, 3.8,1.5e-4, 5.0,1.0e-4, 6.0,5.0e-5, 6.7,2.0e-5, 7.1,9.0e-6, 7.15,1e-6],
  [1,1.1e-2, 1.7,1.0e-2, 2.5,7.0e-3, 3.2,3.6e-3, 3.8,1.3e-3, 4.25,3.0e-4, 4.55,4.0e-5, 4.62,1e-6],
  [1,6.8e-3, 2.4,7.5e-3, 3.6,5.5e-3, 4.6,2.8e-3, 5.4,9.5e-4, 6.0,2.2e-4, 6.35,3.5e-5, 6.42,1e-6],
  [1,4.3e-3, 1.5,4.1e-3, 2.2,3.1e-3, 2.8,1.7e-3, 3.3,6.5e-4, 3.7,1.4e-4, 3.95,2.0e-5, 3.98,1e-6],
  [1,2.8e-3, 2.0,3.2e-3, 3.1,2.5e-3, 4.0,1.3e-3, 4.7,4.6e-4, 5.2,1.1e-4, 5.5,1.8e-5, 5.55,1e-6],
  [1,1.9e-3, 1.6,2.0e-3, 2.3,1.6e-3, 2.9,8.5e-4, 3.4,3.0e-4, 3.8,6.5e-5, 4.0,1.4e-5, 4.03,1e-6],
  [1,1.25e-3, 2.3,1.6e-3, 3.5,1.3e-3, 4.6,6.5e-4, 5.4,2.3e-4, 6.0,5.5e-5, 6.3,1.3e-5, 6.35,1e-6],
  [1,8.5e-4, 1.6,9.5e-4, 2.4,8.0e-4, 3.1,4.2e-4, 3.6,1.5e-4, 4.0,3.5e-5, 4.2,1.0e-5, 4.23,1e-6],
  [1,6.2e-4, 2.6,8.5e-4, 4.0,7.0e-4, 5.2,3.4e-4, 6.1,1.2e-4, 6.7,3.2e-5, 7.0,1.0e-5, 7.05,1e-6],
  [1,4.0e-4, 1.7,4.6e-4, 2.6,3.9e-4, 3.4,2.0e-4, 4.0,7.5e-5, 4.4,2.2e-5, 4.58,1e-5, 4.6,1e-6],
  [1,2.7e-4, 2.2,3.5e-4, 3.4,3.0e-4, 4.5,1.5e-4, 5.3,5.5e-5, 5.8,1.8e-5, 6.0,1e-6],
  [1,1.9e-4, 1.5,2.0e-4, 2.2,1.7e-4, 2.8,9.5e-5, 3.3,4.0e-5, 3.62,1.4e-5, 3.7,1e-6],
  [1,1.15e-4, 2.2,1.6e-4, 3.5,1.4e-4, 4.6,7.5e-5, 5.4,3.2e-5, 5.9,1.2e-5, 5.95,1e-6],
  [1,7.5e-5, 1.6,9.0e-5, 2.5,8.5e-5, 3.3,5.0e-5, 3.9,2.4e-5, 4.3,1.1e-5, 4.35,1e-6],
  [1,4.2e-5, 2.2,7.0e-5, 3.6,7.0e-5, 4.8,4.5e-5, 5.7,2.2e-5, 6.3,1.0e-5, 6.35,1e-6],
  [1,2.4e-5, 1.4,3.6e-5, 2.0,5.0e-5, 2.7,5.5e-5, 3.4,4.6e-5, 4.0,2.8e-5, 4.4,1.2e-5, 4.45,1e-6],
  [1,1.5e-5, 2.0,3.8e-5, 3.2,5.5e-5, 4.5,5.2e-5, 5.6,3.4e-5, 6.4,1.6e-5, 6.9,8.0e-6, 6.95,1e-6],
  [1,9.0e-6, 1.5,1.5e-5, 2.2,2.1e-5, 2.9,2.3e-5, 3.6,1.9e-5, 4.2,1.1e-5, 4.5,6.0e-6, 4.55,1e-6],
  [1,5.5e-5, 1.5,8.0e-5, 2.1,1.0e-4, 2.8,1.05e-4, 3.5,8.0e-5, 4.1,4.2e-5, 4.5,1.5e-5, 4.6,1e-6],
  [1,3.6e-5, 1.9,7.0e-5, 3.0,9.0e-5, 4.1,8.0e-5, 5.0,5.0e-5, 5.7,2.2e-5, 6.1,9.0e-6, 6.15,1e-6],
  [1,1.7e-5, 2.4,4.5e-5, 4.0,6.0e-5, 5.5,5.0e-5, 6.7,3.0e-5, 7.6,1.4e-5, 8.1,7.0e-6, 8.15,1e-6],
  [1,2.1e-3, 3.0,2.5e-3, 4.7,1.7e-3, 6.1,7.0e-4, 7.1,2.3e-4, 7.8,6.0e-5, 8.2,1.6e-5, 8.28,1e-6],
  [1,7.5e-4, 3.3,1.1e-3, 5.0,8.5e-4, 6.4,3.8e-4, 7.4,1.3e-4, 8.0,4.0e-5, 8.4,1.2e-5, 8.45,1e-6],
  [1,3.0e-4, 3.4,5.5e-4, 5.2,4.4e-4, 6.6,2.0e-4, 7.6,7.5e-5, 8.2,2.4e-5, 8.5,1.0e-5, 8.55,1e-6],
  [1,1.6e-2, 2.0,1.6e-2, 3.0,1.15e-2, 3.8,6.0e-3, 4.5,2.0e-3, 5.0,4.5e-4, 5.3,5.0e-5, 5.38,1e-6],
  [1,2.1e-2, 1.5,1.9e-2, 2.1,1.4e-2, 2.7,7.5e-3, 3.2,2.8e-3, 3.55,7.0e-4, 3.78,8.0e-5, 3.82,1e-6],
  [1,3.6e-3, 2.7,4.6e-3, 4.2,3.4e-3, 5.5,1.5e-3, 6.5,4.5e-4, 7.1,1.1e-4, 7.5,2.0e-5, 7.56,1e-6],
  [1,9.5e-3, 1.4,9.0e-3, 1.9,6.8e-3, 2.3,3.8e-3, 2.65,1.4e-3, 2.9,3.0e-4, 3.05,4.0e-5, 3.08,1e-6],
  [1,3.1e-3, 1.4,2.9e-3, 1.9,2.2e-3, 2.3,1.2e-3, 2.6,4.5e-4, 2.85,1.0e-4, 2.98,1.5e-5, 3.0,1e-6],
  [1,1.05e-3, 1.4,1.0e-3, 1.9,7.5e-4, 2.3,4.0e-4, 2.65,1.5e-4, 2.88,4.0e-5, 3.0,1.0e-5, 3.02,1e-6],
  [1,3.3e-4, 1.4,3.2e-4, 1.9,2.5e-4, 2.3,1.4e-4, 2.6,6.0e-5, 2.82,2.0e-5, 2.9,1e-6]
];

// ---------------- styles ----------------
const nuclideColors = ['#1e9a4c', '#e52329', '#1a1a1a', '#14999b', '#d23a9a', '#ee6a24', '#7cc242', '#7a3f98',
  '#4a4c9f', '#c2185b', '#2bab8a', '#a8d038', '#3a8fd2', '#8d5e33', '#8a8a8a', '#f15c66', '#52bf8f', '#5a5aa8',
  '#5a3a1e', '#c8196b'];
const sumColor = '#3455a4';
const expColor = '#1a1515';
const otherColor = '#939393';
const bgColor = '#fdfdf7';

function toPoints(flat) {
  const pts = [];
  for (let i = 0; i < flat.length; i += 2) pts.push({ x: flat[i], y: flat[i + 1] });
  return pts;
}
function pairPoints(xs, ys) { return xs.map((x, i) => ({ x: x, y: ys[i] })); }

const datasets = [];
nuclideSpectra.forEach((s, i) => {
  datasets.push({ label: nuclideLabels[i], data: toPoints(s), borderColor: nuclideColors[i], backgroundColor: nuclideColors[i],
    borderWidth: 2, pointRadius: 0, cubicInterpolationMode: 'monotone', fill: false, order: 2 });
});
datasets.push({ label: 'Sum', data: pairPoints(sumX, sumY), borderColor: sumColor, backgroundColor: sumColor,
  borderWidth: 2, pointRadius: 0, cubicInterpolationMode: 'monotone', fill: false, order: 1 });
datasets.push({ label: 'Exp.', data: pairPoints(expX, expY), showLine: false, pointStyle: 'rect', pointRadius: 9.6,
  backgroundColor: expColor, borderColor: expColor, borderWidth: 0, order: 0 });
otherSpectra.forEach((s) => {
  datasets.push({ label: '', data: toPoints(s), borderColor: otherColor, borderWidth: 1.7, pointRadius: 0,
    cubicInterpolationMode: 'monotone', fill: false, order: 3 });
});

const expSwatch = document.createElement('canvas');
expSwatch.width = 13; expSwatch.height = 13;
(function () { const g = expSwatch.getContext('2d'); g.fillStyle = expColor; g.fillRect(0, 0, 13, 13); })();

const LEG_PAD = 8.4, LEG_FONT = 25;

const decorations = {
  id: 'decorations',
  beforeDraw(chart) {
    const ctx = chart.ctx;
    ctx.save();
    ctx.fillStyle = bgColor;
    ctx.fillRect(0, 0, chart.width, chart.height);
    ctx.restore();
    const lg = chart.legend;
    if (lg) {
      lg.left = 963 - LEG_PAD; lg.top = 44 - LEG_FONT / 2 - LEG_PAD;
      lg.right = 1400; lg.bottom = 862; lg.width = lg.right - lg.left; lg.height = lg.bottom - lg.top;
    }
  },
  beforeDatasetsDraw(chart) {
    const ctx = chart.ctx;
    ctx.save();
    ctx.fillStyle = '#ffffff';
    ctx.fillRect(653, 53, 266, 125);
    ctx.fillStyle = '#111111';
    ctx.textBaseline = 'alphabetic';
    ctx.textAlign = 'left';
    ctx.font = '46px "Liberation Serif", "Times New Roman", serif';
    ctx.fillText('235', 650, 148);
    ctx.font = '66px "Liberation Serif", "Times New Roman", serif';
    ctx.fillText('U', 717, 171);
    ctx.restore();
  },
  afterDatasetsDraw(chart) {
    const ctx = chart.ctx;
    const a = chart.chartArea;
    const ys = chart.scales.y, xs = chart.scales.x;
    ctx.save();
    ctx.lineCap = 'butt';
    ctx.strokeStyle = '#6b6b6b'; ctx.lineWidth = 1.5;
    ctx.beginPath(); ctx.moveTo(a.left, a.top); ctx.lineTo(a.right, a.top); ctx.stroke();
    ctx.strokeStyle = '#8a8a8a'; ctx.lineWidth = 2;
    ctx.beginPath(); ctx.moveTo(a.right, a.top); ctx.lineTo(a.right, a.bottom); ctx.stroke();
    ctx.strokeStyle = '#222'; ctx.lineWidth = 1.5;
    ctx.beginPath(); ctx.moveTo(a.left, a.top); ctx.lineTo(a.left, a.bottom); ctx.stroke();
    ctx.strokeStyle = '#444'; ctx.lineWidth = 2;
    ctx.beginPath(); ctx.moveTo(a.left, a.bottom); ctx.lineTo(a.right + 1, a.bottom); ctx.stroke();
    ctx.strokeStyle = '#222'; ctx.lineWidth = 1.2;
    ys.ticks.forEach(t => {
      const p = ys.getPixelForValue(t.value);
      if (p < a.top + 1 || p > a.bottom - 1) return;
      const e = Math.log10(t.value);
      const major = Math.abs(e - Math.round(e)) < 1e-6;
      ctx.beginPath();
      if (major) { ctx.moveTo(a.left - 5, p); ctx.lineTo(a.left + 5, p); }
      else { ctx.moveTo(a.left - 2, p); ctx.lineTo(a.left + 4, p); }
      ctx.stroke();
    });
    ctx.strokeStyle = '#333'; ctx.lineWidth = 1.5;
    xs.ticks.forEach(t => {
      const p = xs.getPixelForValue(t.value);
      ctx.beginPath(); ctx.moveTo(p, a.bottom); ctx.lineTo(p, a.bottom - 7); ctx.stroke();
    });
    ctx.restore();
  },
  afterDraw(chart) {
    const ctx = chart.ctx;
    ctx.save();
    ctx.strokeStyle = '#111'; ctx.lineWidth = 8; ctx.lineCap = 'butt';
    ctx.beginPath(); ctx.moveTo(1142, 723); ctx.lineTo(1170, 736); ctx.stroke();
    ctx.restore();
  }
};

const textColor = '#231f20';

new Chart(document.getElementById('c'), {
  type: 'line',
  data: { datasets: datasets },
  options: {
    responsive: false,
    animation: false,
    devicePixelRatio: 1,
    events: [],
    layout: { padding: { top: 17, left: 26, right: 72, bottom: 0 } },
    scales: {
      x: {
        type: 'linear', min: 1, max: 9,
        afterFit(s) { s.height = 100; },
        grid: { display: false, drawTicks: false },
        border: { display: false },
        afterBuildTicks(s) { s.ticks = energyTicks.map(v => ({ value: v })); },
        ticks: {
          autoSkip: false, maxRotation: 0, padding: 40, color: textColor,
          font: { family: '"Liberation Sans", Arial, sans-serif', size: 24 },
          callback: (v) => Number(v).toFixed(2)
        },
        title: {
          display: true, text: 'Electron Energy (MeV)', color: textColor,
          font: { family: '"DejaVu Sans", Verdana, sans-serif', size: 26, weight: 'bold', lineHeight: 1.0 },
          padding: { top: 0, bottom: 0 }
        }
      },
      y: {
        type: 'logarithmic', min: 1.47e-5, max: 2.03,
        afterFit(s) { s.width = 140.5; },
        grid: { display: false, drawTicks: false },
        border: { display: false },
        ticks: {
          autoSkip: false, padding: 9, color: textColor,
          font: { family: '"Liberation Sans", Arial, sans-serif', size: 24 },
          callback: (v) => {
            const e = Math.log10(v); const r = Math.round(e);
            return (Math.abs(e - r) < 1e-6 && decadeLabels[r] !== undefined) ? decadeLabels[r] : '';
          }
        },
        title: {
          display: true, text: 'Spectrum ( 1/ MeV fission )', color: textColor,
          font: { family: '"DejaVu Sans", Verdana, sans-serif', size: 24, weight: 'bold', lineHeight: 1.2 },
          padding: { top: 0, bottom: 0 }
        }
      }
    },
    plugins: {
      tooltip: { enabled: false },
      legend: {
        position: 'right', align: 'start', maxWidth: 150,
        labels: {
          usePointStyle: true, pointStyleWidth: 50, padding: LEG_PAD, color: textColor,
          font: { family: '"Liberation Sans", Arial, sans-serif', size: LEG_FONT },
          filter: (item) => item.text !== '',
          sort: (a, b) => a.datasetIndex - b.datasetIndex,
          generateLabels(chart) {
            const items = Chart.defaults.plugins.legend.labels.generateLabels(chart);
            items.forEach(it => {
              const ds = chart.data.datasets[it.datasetIndex];
              if (ds.showLine === false) { it.pointStyle = expSwatch; }
              else { it.pointStyle = 'line'; it.lineWidth = 3; it.strokeStyle = ds.borderColor; }
            });
            return items;
          }
        }
      }
    }
  },
  plugins: [decorations]
});
</script>
</body>
</html>
